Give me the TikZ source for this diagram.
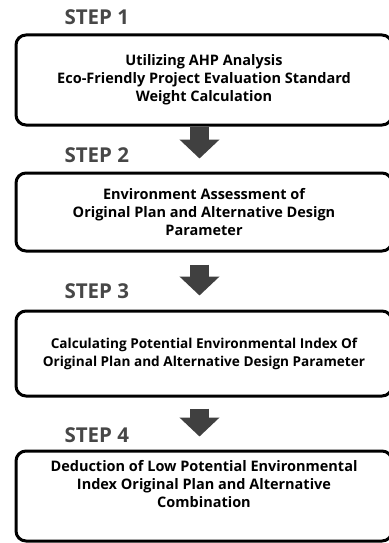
\documentclass[tikz,border=0pt]{standalone}
\usepackage{fontspec}
\setmainfont{Open Sans}
\usetikzlibrary{arrows.meta}

\begin{document}
\begin{tikzpicture}[x=1pt,y=-1pt,
  stepbox/.style={draw,line width=3pt,rounded corners=10pt,minimum width=376pt,
    align=center,font=\bfseries\fontsize{14.5}{18}\selectfont},
  steplabel/.style={anchor=base west,text=black!72,font=\bfseries\fontsize{20.5}{22}\selectfont},
  flow/.style={draw=black!75,line width=19pt,-{Triangle[width=39pt,length=19pt]}}]
\useasboundingbox (0,0) rectangle (388,543);
% steps
\node[steplabel] (s1) at (61,25) {STEP 1};
\node[stepbox,minimum height=90pt] (b1) at (204,80) {Utilizing AHP Analysis\\Eco-Friendly Project Evaluation Standard\\Weight Calculation};
\node[steplabel] (s2) at (61,162) {STEP 2};
\node[stepbox,minimum height=78pt] (b2) at (204,212) {Environment Assessment of\\Original Plan and Alternative Design\\Parameter};
\node[steplabel] (s3) at (61,298) {STEP 3};
\node[stepbox,minimum height=85pt,font=\bfseries\fontsize{13.6}{18}\selectfont] (b3) at (204,353.5) {Calculating Potential Environmental Index Of\\Original Plan and Alternative Design Parameter};
\node[steplabel] (s4) at (61,442) {STEP 4};
\node[stepbox,minimum height=90pt] (b4) at (204,496) {Deduction of Low Potential Environmental\\Index Original Plan and Alternative\\Combination\\[6pt]};
% arrows
\draw[flow,shorten >=13pt] ([xshift=-4.5pt]b1.south) -- ([xshift=-4.5pt]b2.north);
\draw[flow,shorten <=12pt,shorten >=14pt] ([xshift=-4.5pt]b2.south) -- ([xshift=-4.5pt]b3.north);
\draw[flow,shorten <=11pt,shorten >=13pt] ([xshift=-4.5pt]b3.south) -- ([xshift=-4.5pt]b4.north);
\end{tikzpicture}
\end{document}
